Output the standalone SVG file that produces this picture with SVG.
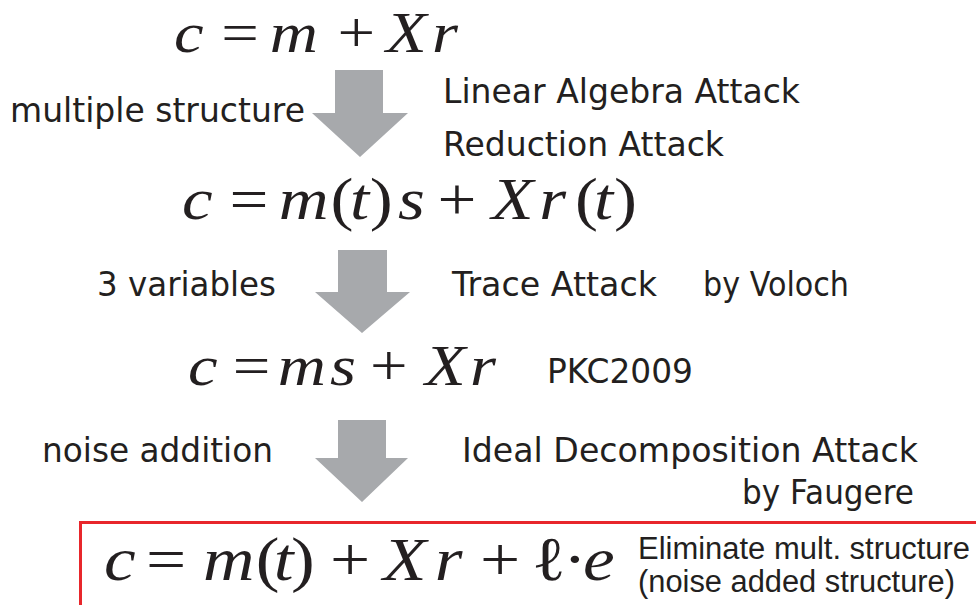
<svg xmlns="http://www.w3.org/2000/svg" width="976" height="605" viewBox="0 0 976 605">
<defs>
<style>
.m{font-family:"Liberation Serif","Times New Roman",serif;fill:#231f20}
.i{font-style:italic}
.lab{font-family:"DejaVu Sans","Verdana",sans-serif;font-size:33px;fill:#231f20}
.note{font-family:"Liberation Sans","Arial",sans-serif;font-size:31px;fill:#231f20}
.arrow{fill:#a7a9ac}
</style>
</defs>
<rect width="976" height="605" fill="#ffffff"/>
<g id="connectors">
<polygon class="arrow" points="335,70 383,70 383,113 408,113 360,157 312,113 335,113"/>
<polygon class="arrow" points="338,250 387,250 387,292 410,292 362,333 315,292 338,292"/>
<polygon class="arrow" points="338,420 386,420 386,458 408,458 362,502 315,458 338,458"/>
</g>
<g id="eq1">
<text class="m" font-size="58" y="52" transform="scale(1.15,1)"><tspan class="i" x="151.3">c</tspan><tspan x="192.5">=</tspan><tspan class="i" x="234.5">m</tspan><tspan x="293.5">+</tspan><tspan class="i" x="335.7">X</tspan><tspan class="i" x="375.7">r</tspan></text>
</g>
<g id="step1">
<text class="lab" x="10" y="122" textLength="295" lengthAdjust="spacingAndGlyphs">multiple structure</text>
<text class="lab" x="443" y="103" textLength="357" lengthAdjust="spacingAndGlyphs">Linear Algebra Attack</text>
<text class="lab" x="443" y="156" textLength="281" lengthAdjust="spacingAndGlyphs">Reduction Attack</text>
</g>
<g id="eq2">
<text class="m" font-size="60" y="219" transform="scale(1.15,1)"><tspan class="i" x="158.3">c</tspan><tspan x="199.5">=</tspan><tspan class="i" x="242.5">m</tspan><tspan x="287.5">(</tspan><tspan class="i" x="304.3">t</tspan><tspan x="321.5">)</tspan><tspan class="i" x="346.1">s</tspan><tspan x="380.5">+</tspan><tspan class="i" x="427.5">X</tspan><tspan class="i" x="469">r</tspan><tspan x="500">(</tspan><tspan class="i" x="516.5">t</tspan><tspan x="534">)</tspan></text>
</g>
<g id="step2">
<text class="lab" x="97" y="296" textLength="179" lengthAdjust="spacingAndGlyphs">3 variables</text>
<text class="lab" x="452" y="296" textLength="205" lengthAdjust="spacingAndGlyphs">Trace Attack</text>
<text class="lab" x="703" y="296" textLength="146" lengthAdjust="spacingAndGlyphs">by Voloch</text>
</g>
<g id="eq3">
<text class="m" font-size="58" y="385" transform="scale(1.15,1)"><tspan class="i" x="163.5">c</tspan><tspan x="202.5">=</tspan><tspan class="i" x="241.5">m</tspan><tspan class="i" x="287">s</tspan><tspan x="321.7">+</tspan><tspan class="i" x="369.6">X</tspan><tspan class="i" x="408.7">r</tspan></text>
<text class="lab" x="547" y="383" textLength="146" lengthAdjust="spacingAndGlyphs">PKC2009</text>
</g>
<g id="step3">
<text class="lab" x="42" y="462" textLength="231" lengthAdjust="spacingAndGlyphs">noise addition</text>
<text class="lab" x="462" y="462" textLength="456" lengthAdjust="spacingAndGlyphs">Ideal Decomposition Attack</text>
<text class="lab" x="742" y="504" textLength="172" lengthAdjust="spacingAndGlyphs">by Faugere</text>
</g>
<g id="eq4">
<rect x="80.500" y="522.500" width="910" height="100" fill="none" stroke="#e8262b" stroke-width="3"/>
<text class="m" font-size="62" y="580" transform="scale(1.15,1)"><tspan class="i" x="90.4">c</tspan><tspan x="127">=</tspan><tspan class="i" x="176.5">m</tspan><tspan x="222.5">(</tspan><tspan class="i" x="238">t</tspan><tspan x="253">)</tspan><tspan x="287">+</tspan><tspan class="i" x="333">X</tspan><tspan class="i" x="378">r</tspan><tspan x="417.4">+</tspan><tspan x="462.6">ℓ</tspan><tspan x="489.6">·</tspan><tspan class="i" x="507">e</tspan></text>
<text class="note" x="638" y="559" textLength="332" lengthAdjust="spacingAndGlyphs">Eliminate mult. structure</text>
<text class="note" x="638" y="592" textLength="317" lengthAdjust="spacingAndGlyphs">(noise added structure)</text>
</g>
</svg>
